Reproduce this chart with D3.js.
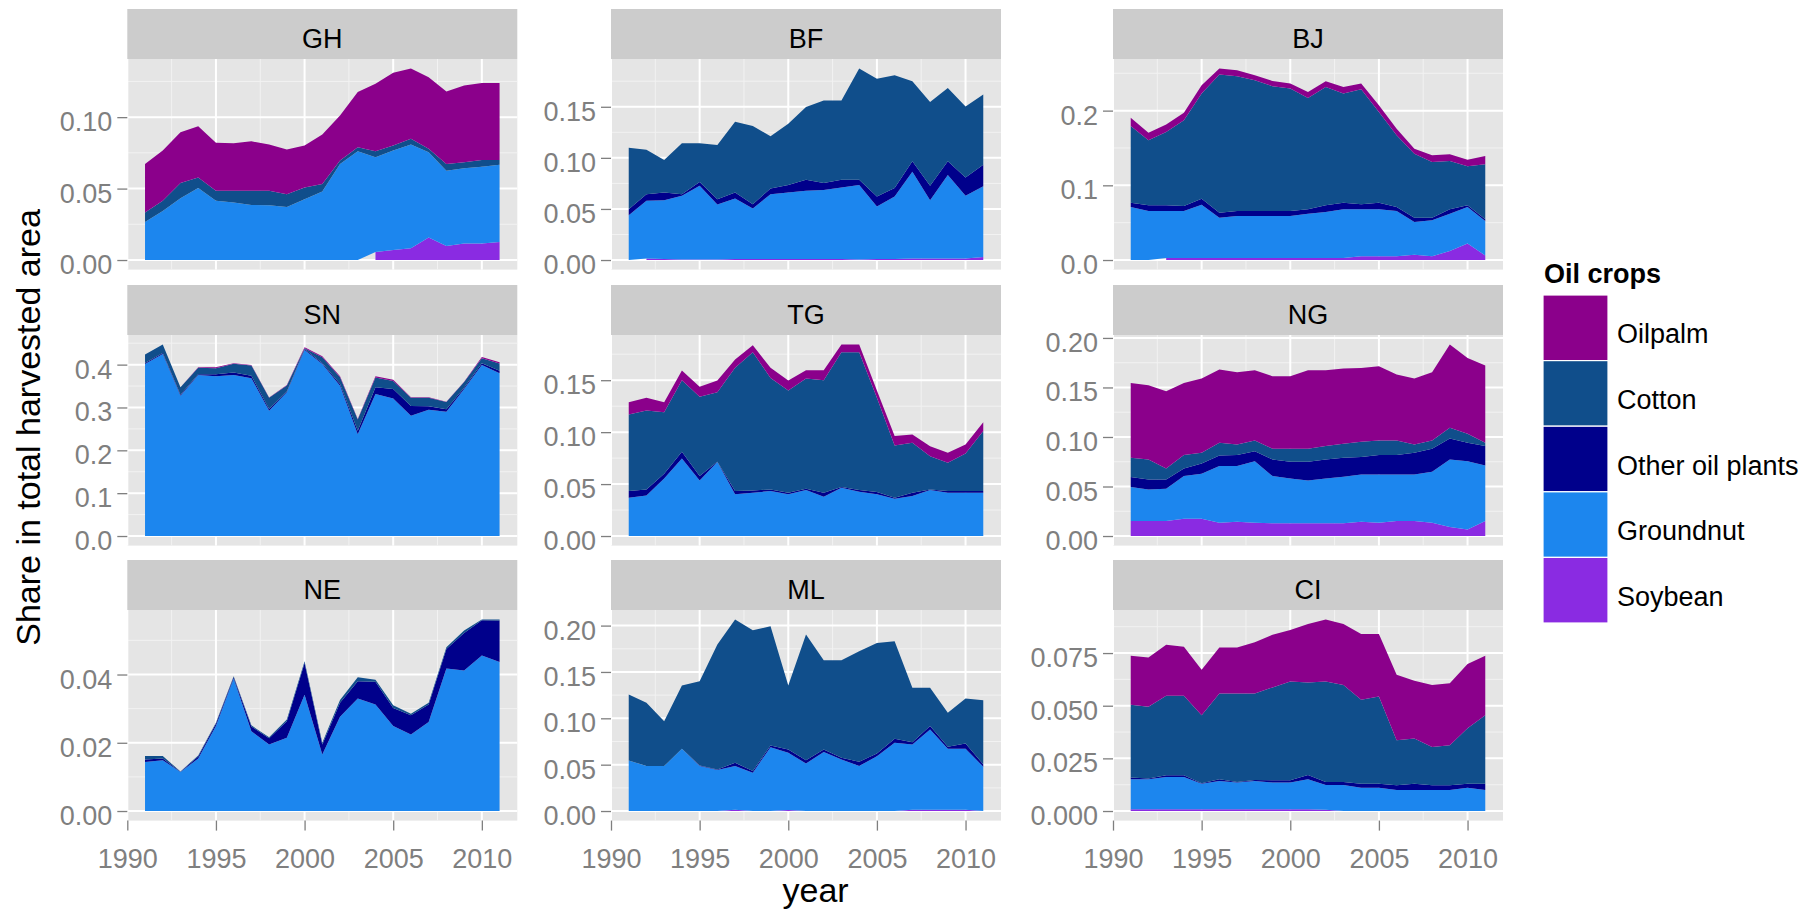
<!DOCTYPE html>
<html>
<head>
<meta charset="utf-8">
<script src="https://cdn.jsdelivr.net/npm/d3@7"></script>
<style>
  body { margin: 0; background: #ffffff; }
  text { font-family: "Liberation Sans", Arial, Helvetica, sans-serif; }
</style>
</head>
<body>
<svg id="chart" width="1817" height="910"></svg>
<script>
// ---- data -------------------------------------------------------------
const years = [1991, 1992, 1993, 1994, 1995, 1996, 1997, 1998, 1999, 2000, 2001,
               2002, 2003, 2004, 2005, 2006, 2007, 2008, 2009, 2010, 2011];

const countries = ["GH", "BF", "BJ", "SN", "TG", "NG", "NE", "ML", "CI"];

// stacking order, bottom to top
const crops = ["Soybean", "Groundnut", "Other oil plants", "Cotton", "Oilpalm"];
const cropColors = ["#8A2BE2", "#1C86EE", "#00008B", "#104E8B", "#8B008B"];
// legend order, top to bottom
const legendCrops = ["Oilpalm", "Cotton", "Other oil plants", "Groundnut", "Soybean"];

// share in total harvested area, per country (null = no record that year)
const soybean = {
  GH: [null, null, null, null, null, null, null, null, null, null, null, null, null, .0056, .007, .0082, .0157, .0098, .0115, .0115, .0126],
  BF: [null, .0015, .001, .0005, .0005, .0005, .001, .001, .001, .001, .001, .001, .001, .0005, .001, .001, .0015, .0015, .0015, .0015, .003],
  BJ: [null, null, .0027, .0027, .0027, .0027, .0027, .0027, .0027, .0027, .0027, .0027, .0027, .005, .005, .005, .007, .005, .012, .022, .006],
  SN: [0, 0, 0, 0, 0, 0, 0, 0, 0, 0, 0, 0, 0, 0, 0, 0, 0, 0, 0, 0, 0],
  TG: [0, 0, 0, 0, 0, 0, 0, 0, 0, 0, 0, 0, 0, 0, 0, 0, 0, 0, 0, 0, 0],
  NG: [.0151, .0151, .0151, .0175, .0175, .0134, .0145, .0134, .0128, .0128, .0128, .0128, .0128, .0145, .0134, .0151, .0151, .0134, .0091, .0067, .0151],
  NE: [0, 0, 0, 0, 0, 0, 0, 0, 0, 0, 0, 0, 0, 0, 0, 0, 0, 0, 0, 0, 0],
  ML: [0, 0, 0, 0, 0, 0, .0015, 0, 0, .0012, 0, 0, 0, 0, 0, 0, .0015, .0015, .0015, .0015, 0],
  CI: [.0008, .0008, .0008, .0008, .0008, .0008, .0008, .0008, .0008, .0008, .0008, .0006, 0, 0, 0, 0, 0, 0, 0, 0, 0]
};

const groundnut = {
  GH: [.0267, .0344, .0433, .0504, .0415, .0403, .0386, .0384, .0372, .0426, .048, .0672, .0761, .0663, .0696, .0726, .0597, .0527, .0527, .0538, .0541],
  BF: [.0439, .0565, .0576, .0624, .0722, .0539, .0593, .0494, .0635, .0652, .0668, .0675, .0701, .0729, .0514, .0612, .085, .0571, .0817, .0614, .0691],
  BJ: [.071, .0656, .0629, .0629, .0714, .054, .0562, .0562, .0562, .0562, .0594, .0616, .0652, .0629, .0629, .0606, .0439, .0481, .0501, .049, .0462],
  SN: [.4016, .425, .3275, .3758, .3727, .3758, .368, .2924, .3353, .4343, .4016, .3509, .2378, .3314, .3212, .2807, .2947, .2901, .3431, .3992, .3797],
  TG: [.0369, .0391, .0554, .0747, .0535, .0712, .0401, .0417, .0433, .0401, .0442, .0378, .0465, .0426, .0401, .0359, .0385, .0442, .0417, .0417, .0417],
  NG: [.0343, .032, .0326, .043, .0454, .0572, .0561, .0622, .0477, .0454, .0433, .0454, .047, .0477, .0488, .0471, .0471, .0515, .0682, .0689, .0562],
  NE: [.0144, .0149, .0114, .0154, .0249, .0388, .0234, .0195, .0215, .0341, .0166, .0276, .033, .0312, .0249, .0224, .0261, .0418, .0412, .0456, .0437],
  ML: [.0546, .0485, .0485, .0671, .0485, .0442, .047, .0413, .0689, .0616, .0513, .0636, .0557, .0485, .0592, .0736, .0703, .0865, .0656, .0656, .0478],
  CI: [.0143, .0143, .0154, .0154, .0122, .0135, .0127, .0135, .0127, .0127, .0143, .0118, .0124, .0111, .0111, .01, .01, .01, .01, .0111, .01]
};

const otherOilPlants = {
  GH: [0, 0, 0, 0, 0, 0, 0, 0, 0, 0, 0, 0, 0, 0, 0, 0, 0, 0, 0, 0, 0],
  BF: [.0059, .0065, .0076, .0016, .0036, .0052, .0059, .0043, .0056, .0072, .0108, .0068, .0075, .0052, .0098, .0082, .0101, .0141, .0134, .018, .0212],
  BJ: [.0058, .0076, .0076, .0067, .008, .0067, .0067, .0067, .0067, .0067, .0058, .0089, .0089, .0067, .0089, .0054, .0058, .0036, .0058, .0022, .0023],
  SN: [.002, .002, .002, .002, .005, .006, .006, .004, .002, .002, .002, .004, .008, .016, .022, .023, .008, .006, .003, .004, .006],
  TG: [.0064, .0058, .0045, .0064, .0042, .0003, .0032, .0022, .0016, .0016, .0013, .0039, .0006, .0016, .0022, .001, .0032, .0007, .0016, .0016, .0016],
  NG: [.0101, .01, .0094, .0077, .0104, .0107, .0111, .0101, .0168, .0168, .0189, .0191, .0192, .0175, .0195, .0195, .0218, .0232, .0212, .0185, .0195],
  NE: [.0007, .0005, .0001, .0006, .0007, .0004, .0014, .0018, .0048, .0093, .0029, .0041, .005, .0067, .0053, .0057, .0051, .0057, .011, .0103, .0121],
  ML: [0, 0, 0, 0, .0007, .0007, .0036, .0018, .0018, .0036, .0036, .0028, .0018, .0046, .0029, .0043, .0025, .0036, .0022, .0058, .0025],
  CI: [.0008, .0003, .0008, .0008, .0002, .0008, .0003, .0004, .0011, .0011, .002, .0014, .0014, .0019, .0019, .0022, .003, .0022, .0022, .0019, .003]
};

const cotton = {
  GH: [.0066, .0071, .0106, .0074, .007, .0082, .0099, .0101, .0089, .0082, .0052, .0024, .0028, .0042, .0035, .004, .0024, .0047, .0042, .0047, .0033],
  BF: [.0602, .0435, .0318, .0498, .038, .0531, .0691, .0766, .0511, .0599, .0711, .0809, .0776, .1088, .1153, .1104, .0783, .0819, .0718, .0694, .0688],
  BJ: [.1027, .0871, .0982, .1148, .1407, .1848, .1804, .175, .167, .1639, .1491, .1585, .146, .154, .1214, .096, .0857, .0746, .0647, .0522, .0736],
  SN: [.0198, .0198, .0175, .015, .0141, .0203, .0242, .0261, .0141, .002, .0139, .0158, .0261, .0223, .0187, .0189, .0199, .0164, .0131, .0117, .0168],
  TG: [.0737, .0759, .0593, .0689, .0763, .067, .1186, .133, .1073, .0984, .1061, .1083, .1298, .1327, .0907, .0503, .048, .032, .0272, .0362, .0577],
  NG: [.0195, .0202, .0111, .0135, .0107, .0128, .0107, .0108, .0108, .0131, .0131, .0135, .0141, .0154, .0148, .0148, .0084, .0084, .0107, .0091, .0033],
  NE: [.001, .0007, .0001, .0003, .0003, .0003, .0003, .0003, .0005, .0005, .0005, .0008, .0012, .0006, .0008, .0004, .0005, .0005, .0007, .0002, .0003],
  ML: [.0711, .0682, .0484, .0683, .0908, .1346, .1544, .1519, .1286, .069, .1354, .0963, .1052, .1193, .1192, .1052, .0586, .0413, .0366, .0485, .0693],
  CI: [.0345, .0341, .0377, .0377, .0323, .0407, .042, .0411, .0441, .0469, .0439, .0477, .046, .0398, .0414, .0214, .0214, .0182, .019, .0263, .0325]
};

const oilpalm = {
  GH: [.0339, .0351, .0356, .0359, .0335, .0332, .0346, .0323, .0312, .0293, .0346, .0316, .0387, .0473, .051, .0492, .0502, .0508, .0538, .0539, .0539],
  BF: [0, 0, 0, 0, 0, 0, 0, 0, 0, 0, 0, 0, 0, 0, 0, 0, 0, 0, 0, 0, 0],
  BJ: [.0111, .0102, .0099, .0102, .0111, .0081, .008, .0067, .0071, .0067, .008, .0076, .0089, .0076, .0089, .0089, .0067, .0089, .0089, .009, .0112],
  SN: [0, 0, 0, .001, .002, .001, .001, .001, .001, .002, .002, .002, .001, .003, .003, .001, .001, .001, .001, .003, .003],
  TG: [.0118, .0122, .0096, .0093, .0096, .0112, .008, .0068, .0097, .0096, .008, .0096, .0074, .0074, .007, .009, .0081, .0096, .0096, .0086, .0086],
  NG: [.0756, .075, .078, .0729, .075, .074, .073, .0709, .0732, .0732, .0793, .0766, .076, .0746, .0749, .0665, .0666, .0689, .0841, .0766, .078],
  NE: [0, 0, 0, 0, 0, 0, 0, 0, 0, 0, 0, 0, 0, 0, 0, 0, 0, 0, 0, 0, 0],
  ML: [0, 0, 0, 0, 0, 0, 0, 0, 0, 0, 0, 0, 0, 0, 0, 0, 0, 0, 0, 0, 0],
  CI: [.0233, .0234, .0243, .0233, .0216, .0219, .0219, .0243, .025, .0244, .0278, .0294, .029, .0312, .0296, .0311, .0274, .0294, .0295, .0305, .0282]
};

// y-axis tick labels of each facet
const yTickLabels = {
  GH: ["0.00", "0.05", "0.10"],
  BF: ["0.00", "0.05", "0.10", "0.15"],
  BJ: ["0.0", "0.1", "0.2"],
  SN: ["0.0", "0.1", "0.2", "0.3", "0.4"],
  TG: ["0.00", "0.05", "0.10", "0.15"],
  NG: ["0.00", "0.05", "0.10", "0.15", "0.20"],
  NE: ["0.00", "0.02", "0.04"],
  ML: ["0.00", "0.05", "0.10", "0.15", "0.20"],
  CI: ["0.000", "0.025", "0.050", "0.075"]
};
const xTickLabels = ["1990", "1995", "2000", "2005", "2010"];

const cropTables = {
  "Soybean": soybean,
  "Groundnut": groundnut,
  "Other oil plants": otherOilPlants,
  "Cotton": cotton,
  "Oilpalm": oilpalm
};

// ---- layout -----------------------------------------------------------
const colLeft = [127.3, 611, 1113];
const rowTop = [9, 285, 560];
const panelW = 390;
const stripH = 50;
const panelH = 210.6;
const tickLen = 10;
const smallFont = 27;
const titleFont = 34;
const textGrey = "#7f7f7f";

const svg = d3.select("#chart");
const color = d3.scaleOrdinal().domain(crops).range(cropColors);

const xScale = d3.scaleLinear().domain([1990, 2012]).range([0, panelW]);
const xMajor = xTickLabels.map(Number);
const xMinor = [1987.5, 1992.5, 1997.5, 2002.5, 2007.5, 2012.5].filter(v => v >= 1990 && v <= 2012);

countries.forEach((country, idx) => {
  const col = idx % 3, row = Math.floor(idx / 3);
  const g = svg.append("g").attr("transform", `translate(${colLeft[col]},${rowTop[row]})`);

  // strip
  g.append("rect").attr("width", panelW).attr("height", stripH).attr("fill", "#cccccc");
  g.append("text")
    .attr("x", panelW / 2).attr("y", 39.3)
    .attr("text-anchor", "middle")
    .attr("font-size", smallFont)
    .attr("fill", "#000")
    .text(country);

  const p = g.append("g").attr("transform", `translate(0,${stripH})`);

  // rows for stacking
  const rows = years.map((yr, i) => {
    const r = { year: yr };
    crops.forEach(c => { r[c] = cropTables[c][country][i]; });
    return r;
  });
  const totals = rows.map(r => d3.sum(crops, c => r[c] ?? 0));
  const maxT = d3.max(totals);
  const yScale = d3.scaleLinear().domain([-0.05 * maxT, 1.05 * maxT]).range([panelH, 0]);

  const labels = yTickLabels[country];
  const yMajor = labels.map(Number);
  const step = yMajor[1] - yMajor[0];
  const [ylo, yhi] = yScale.domain();
  const yMinor = [yMajor[0] - step / 2].concat(yMajor.map(v => v + step / 2))
    .filter(v => v >= ylo && v <= yhi);

  // panel background and grid
  p.append("rect").attr("width", panelW).attr("height", panelH).attr("fill", "#e5e5e5");
  p.selectAll("line.ymin").data(yMinor).join("line")
    .attr("x1", 0).attr("x2", panelW)
    .attr("y1", d => yScale(d)).attr("y2", d => yScale(d))
    .attr("stroke", "#f2f2f2").attr("stroke-width", 1);
  p.selectAll("line.xmin").data(xMinor).join("line")
    .attr("y1", 0).attr("y2", panelH)
    .attr("x1", d => xScale(d)).attr("x2", d => xScale(d))
    .attr("stroke", "#f2f2f2").attr("stroke-width", 1);
  p.selectAll("line.ymaj").data(yMajor).join("line")
    .attr("x1", 0).attr("x2", panelW)
    .attr("y1", d => yScale(d)).attr("y2", d => yScale(d))
    .attr("stroke", "#ffffff").attr("stroke-width", 2);
  p.selectAll("line.xmaj").data(xMajor).join("line")
    .attr("y1", 0).attr("y2", panelH)
    .attr("x1", d => xScale(d)).attr("x2", d => xScale(d))
    .attr("stroke", "#ffffff").attr("stroke-width", 2);

  // stacked areas
  const series = d3.stack().keys(crops).value((d, k) => d[k] ?? 0)(rows);
  series.forEach(s => {
    const area = d3.area()
      .defined(pt => pt.data[s.key] != null)
      .x(pt => xScale(pt.data.year))
      .y0(pt => yScale(pt[0]))
      .y1(pt => yScale(pt[1]));
    p.append("path").datum(s)
      .attr("d", area)
      .attr("fill", color(s.key));
  });

  // y axis
  const yAxis = d3.axisLeft(yScale)
    .tickValues(yMajor)
    .tickFormat((d, i) => labels[i])
    .tickSize(tickLen)
    .tickPadding(5);
  const ya = p.append("g").call(yAxis);
  ya.select(".domain").remove();
  ya.selectAll(".tick line").attr("stroke", textGrey).attr("stroke-width", 1.3);
  ya.selectAll(".tick text")
    .attr("fill", textGrey).attr("font-size", smallFont)
    .attr("font-family", null).attr("dy", "0.5em");

  // x axis only on the bottom row
  if (row === 2) {
    const xAxis = d3.axisBottom(xScale)
      .tickValues(xMajor)
      .tickFormat((d, i) => xTickLabels[i])
      .tickSize(tickLen);
    const xa = p.append("g").attr("transform", `translate(0,${panelH})`).call(xAxis);
    xa.select(".domain").remove();
    xa.selectAll(".tick line").attr("stroke", textGrey).attr("stroke-width", 1.3);
    xa.selectAll(".tick text")
      .attr("fill", textGrey).attr("font-size", smallFont)
      .attr("font-family", null).attr("y", 47.6).attr("dy", 0);
  }
});

// axis titles
svg.append("text")
  .attr("transform", "translate(40,427.5) rotate(-90)")
  .attr("text-anchor", "middle")
  .attr("font-size", titleFont)
  .attr("fill", "#000")
  .text("Share in total harvested area");

svg.append("text")
  .attr("x", 815.6).attr("y", 902)
  .attr("text-anchor", "middle")
  .attr("font-size", titleFont)
  .attr("fill", "#000")
  .text("year");

// legend
const legend = svg.append("g").attr("transform", "translate(1543,295)");
legend.append("text")
  .attr("x", 1).attr("y", -11.7)
  .attr("font-size", smallFont)
  .attr("font-weight", "bold")
  .attr("fill", "#000")
  .text("Oil crops");
const keyW = 65, keyH = 65.6;
legendCrops.forEach((c, i) => {
  legend.append("rect")
    .attr("x", 0).attr("y", i * keyH)
    .attr("width", keyW).attr("height", keyH)
    .attr("fill", color(c))
    .attr("stroke", "#ffffff").attr("stroke-width", 1.2);
  legend.append("text")
    .attr("x", 74).attr("y", i * keyH + keyH / 2 + 15.5)
    .attr("font-size", smallFont)
    .attr("fill", "#000")
    .text(c);
});
</script>
</body>
</html>
